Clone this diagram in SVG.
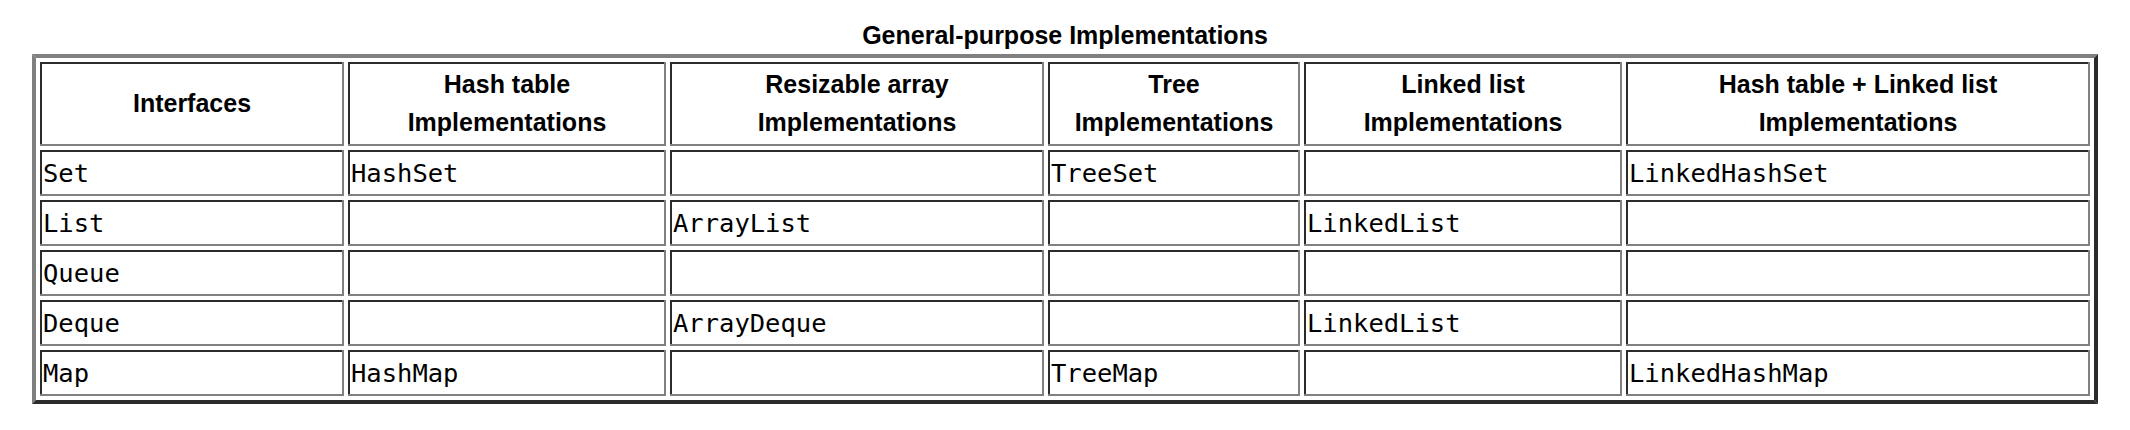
<svg xmlns="http://www.w3.org/2000/svg" width="2130" height="430" viewBox="0 0 2130 430">
<style>
.bg{fill:#ffffff}
.d{fill:none;stroke:#2b2b2b;stroke-width:2}
.l{fill:none;stroke:#808080;stroke-width:2}
.od{fill:#2b2b2b}
.ol{fill:#808080}
.t{font-family:"Liberation Sans",Arial,sans-serif;font-weight:bold;font-size:25px;fill:#000;text-anchor:middle}
.h{font-family:"Liberation Sans",Arial,sans-serif;font-weight:bold;font-size:25px;fill:#000;text-anchor:middle}
.m{font-family:"DejaVu Sans Mono",monospace;font-size:25.5px;fill:#000}
</style>
<rect class="bg" x="0" y="0" width="2130" height="430"/>
<text id="title" class="t" x="1065" y="44">General-purpose Implementations</text>
<g id="table-frame">
<polygon class="ol" points="32,54 2098,54 2094,58 36,58"/>
<polygon class="ol" points="32,54 36,58 36,400 32,404"/>
<polygon class="od" points="32,404 2098,404 2094,400 36,400"/>
<polygon class="od" points="2098,54 2098,404 2094,400 2094,58"/>
</g>
<g id="header">
<g id="h-interfaces"><path class="d" d="M41 146V63H344"/><path class="l" d="M343 62V145H40"/><text class="h" x="192" y="112">Interfaces</text></g>
<g id="h-hash"><path class="d" d="M349 146V63H666"/><path class="l" d="M665 62V145H348"/><text class="h" x="507" y="93">Hash table</text><text class="h" x="507" y="131">Implementations</text></g>
<g id="h-array"><path class="d" d="M671 146V63H1044"/><path class="l" d="M1043 62V145H670"/><text class="h" x="857" y="93">Resizable array</text><text class="h" x="857" y="131">Implementations</text></g>
<g id="h-tree"><path class="d" d="M1049 146V63H1300"/><path class="l" d="M1299 62V145H1048"/><text class="h" x="1174" y="93">Tree</text><text class="h" x="1174" y="131">Implementations</text></g>
<g id="h-linked"><path class="d" d="M1305 146V63H1622"/><path class="l" d="M1621 62V145H1304"/><text class="h" x="1463" y="93">Linked list</text><text class="h" x="1463" y="131">Implementations</text></g>
<g id="h-hashlinked"><path class="d" d="M1627 146V63H2090"/><path class="l" d="M2089 62V145H1626"/><text class="h" x="1858" y="93">Hash table + Linked list</text><text class="h" x="1858" y="131">Implementations</text></g>
</g>
<g id="row-set">
<g id="set-c1"><path class="d" d="M41 196V151H344"/><path class="l" d="M343 150V195H40"/><text class="m" x="43" y="182">Set</text></g>
<g id="set-c2"><path class="d" d="M349 196V151H666"/><path class="l" d="M665 150V195H348"/><text class="m" x="351" y="182">HashSet</text></g>
<g id="set-c3"><path class="d" d="M671 196V151H1044"/><path class="l" d="M1043 150V195H670"/></g>
<g id="set-c4"><path class="d" d="M1049 196V151H1300"/><path class="l" d="M1299 150V195H1048"/><text class="m" x="1051" y="182">TreeSet</text></g>
<g id="set-c5"><path class="d" d="M1305 196V151H1622"/><path class="l" d="M1621 150V195H1304"/></g>
<g id="set-c6"><path class="d" d="M1627 196V151H2090"/><path class="l" d="M2089 150V195H1626"/><text class="m" x="1629" y="182">LinkedHashSet</text></g>
</g>
<g id="row-list">
<g id="list-c1"><path class="d" d="M41 246V201H344"/><path class="l" d="M343 200V245H40"/><text class="m" x="43" y="232">List</text></g>
<g id="list-c2"><path class="d" d="M349 246V201H666"/><path class="l" d="M665 200V245H348"/></g>
<g id="list-c3"><path class="d" d="M671 246V201H1044"/><path class="l" d="M1043 200V245H670"/><text class="m" x="673" y="232">ArrayList</text></g>
<g id="list-c4"><path class="d" d="M1049 246V201H1300"/><path class="l" d="M1299 200V245H1048"/></g>
<g id="list-c5"><path class="d" d="M1305 246V201H1622"/><path class="l" d="M1621 200V245H1304"/><text class="m" x="1307" y="232">LinkedList</text></g>
<g id="list-c6"><path class="d" d="M1627 246V201H2090"/><path class="l" d="M2089 200V245H1626"/></g>
</g>
<g id="row-queue">
<g id="queue-c1"><path class="d" d="M41 296V251H344"/><path class="l" d="M343 250V295H40"/><text class="m" x="43" y="282">Queue</text></g>
<g id="queue-c2"><path class="d" d="M349 296V251H666"/><path class="l" d="M665 250V295H348"/></g>
<g id="queue-c3"><path class="d" d="M671 296V251H1044"/><path class="l" d="M1043 250V295H670"/></g>
<g id="queue-c4"><path class="d" d="M1049 296V251H1300"/><path class="l" d="M1299 250V295H1048"/></g>
<g id="queue-c5"><path class="d" d="M1305 296V251H1622"/><path class="l" d="M1621 250V295H1304"/></g>
<g id="queue-c6"><path class="d" d="M1627 296V251H2090"/><path class="l" d="M2089 250V295H1626"/></g>
</g>
<g id="row-deque">
<g id="deque-c1"><path class="d" d="M41 346V301H344"/><path class="l" d="M343 300V345H40"/><text class="m" x="43" y="332">Deque</text></g>
<g id="deque-c2"><path class="d" d="M349 346V301H666"/><path class="l" d="M665 300V345H348"/></g>
<g id="deque-c3"><path class="d" d="M671 346V301H1044"/><path class="l" d="M1043 300V345H670"/><text class="m" x="673" y="332">ArrayDeque</text></g>
<g id="deque-c4"><path class="d" d="M1049 346V301H1300"/><path class="l" d="M1299 300V345H1048"/></g>
<g id="deque-c5"><path class="d" d="M1305 346V301H1622"/><path class="l" d="M1621 300V345H1304"/><text class="m" x="1307" y="332">LinkedList</text></g>
<g id="deque-c6"><path class="d" d="M1627 346V301H2090"/><path class="l" d="M2089 300V345H1626"/></g>
</g>
<g id="row-map">
<g id="map-c1"><path class="d" d="M41 396V351H344"/><path class="l" d="M343 350V395H40"/><text class="m" x="43" y="382">Map</text></g>
<g id="map-c2"><path class="d" d="M349 396V351H666"/><path class="l" d="M665 350V395H348"/><text class="m" x="351" y="382">HashMap</text></g>
<g id="map-c3"><path class="d" d="M671 396V351H1044"/><path class="l" d="M1043 350V395H670"/></g>
<g id="map-c4"><path class="d" d="M1049 396V351H1300"/><path class="l" d="M1299 350V395H1048"/><text class="m" x="1051" y="382">TreeMap</text></g>
<g id="map-c5"><path class="d" d="M1305 396V351H1622"/><path class="l" d="M1621 350V395H1304"/></g>
<g id="map-c6"><path class="d" d="M1627 396V351H2090"/><path class="l" d="M2089 350V395H1626"/><text class="m" x="1629" y="382">LinkedHashMap</text></g>
</g>
<g id="connectors"/>
</svg>
